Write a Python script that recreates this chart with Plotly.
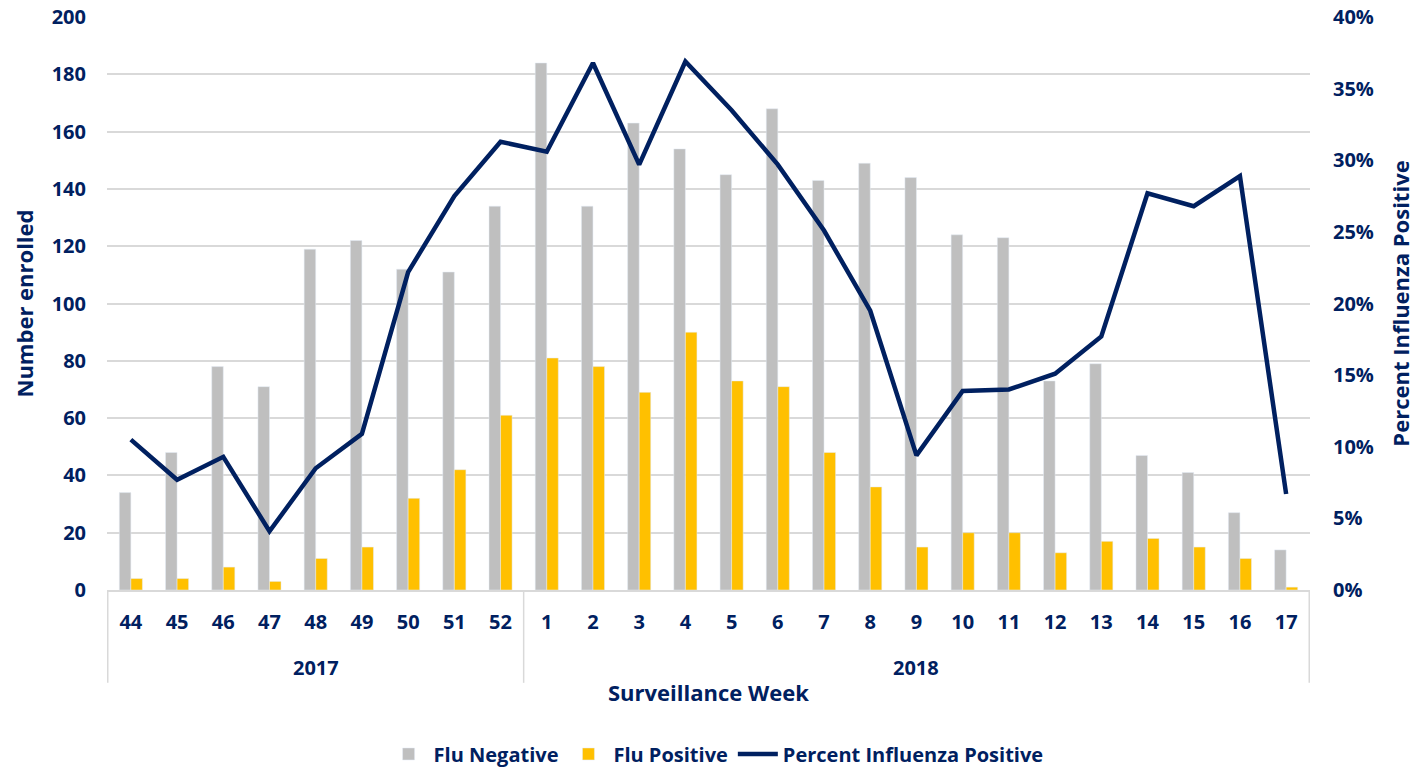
import plotly.graph_objects as go

years = ["2017", "2018"]
year_week_counts = [9, 17]
weeks = ["44", "45", "46", "47", "48", "49", "50", "51", "52",
         "1", "2", "3", "4", "5", "6", "7", "8", "9", "10", "11", "12", "13", "14", "15", "16", "17"]
flu_negative = [34, 48, 78, 71, 119, 122, 112, 111, 134,
                184, 134, 163, 154, 145, 168, 143, 149, 144, 124, 123, 73, 79, 47, 41, 27, 14]
flu_positive = [4, 4, 8, 3, 11, 15, 32, 42, 61,
                81, 78, 69, 90, 73, 71, 48, 36, 15, 20, 20, 13, 17, 18, 15, 11, 1]
pct_positive = [0.105, 0.077, 0.093, 0.041, 0.085, 0.109, 0.222, 0.275, 0.313,
                0.306, 0.368, 0.297, 0.369, 0.335, 0.297, 0.251, 0.195, 0.094,
                0.139, 0.140, 0.151, 0.177, 0.277, 0.268, 0.289, 0.067]

NAVY = "#002060"
GRID = "#D9D9D9"
FONT = "Open Sans"

fig = go.Figure()
fig.add_trace(go.Bar(x=weeks, y=flu_negative, name="Flu Negative", marker_color="#BFBFBF"))
fig.add_trace(go.Bar(x=weeks, y=flu_positive, name="Flu Positive", marker_color="#FFC000"))
fig.add_trace(go.Scatter(x=weeks, y=pct_positive, name="Percent Influenza Positive", yaxis="y2",
                         mode="lines", line=dict(color=NAVY, width=4.5)))

# year group labels and dividers below the category axis
start = 0
div_positions = [-0.5]
for yr, n in zip(years, year_week_counts):
    center = start + (n - 1) / 2
    fig.add_annotation(x=center, xref="x", y=-0.136, yref="paper", text="<b>" + yr + "</b>",
                       showarrow=False, yanchor="middle",
                       font=dict(family=FONT, size=20, color=NAVY))
    start += n
    div_positions.append(start - 0.5)
for dx in div_positions:
    fig.add_shape(type="line", x0=dx, x1=dx, xref="x", y0=0, y1=-0.162, yref="paper",
                  line=dict(color=GRID, width=1.5))

fig.add_annotation(x=0.5, xref="paper", y=-0.178, yref="paper", text="<b>Surveillance Week</b>",
                   showarrow=False, yanchor="middle", font=dict(family=FONT, size=22, color=NAVY))

fig.update_layout(
    width=1418, height=767,
    margin=dict(l=107, r=108, t=17, b=177),
    plot_bgcolor="white", paper_bgcolor="white",
    font=dict(family=FONT, size=20, color=NAVY),
    barmode="group", bargap=0.5, bargroupgap=0,
    xaxis=dict(type="category", showgrid=False, showline=True, linecolor=GRID, linewidth=1.5,
               ticks="", ticklabelstandoff=13, automargin=False,
               tickfont=dict(family=FONT, size=20, color=NAVY, weight="bold")),
    yaxis=dict(range=[0, 200.05], tickmode="linear", tick0=0, dtick=20, showgrid=True,
               gridcolor=GRID, gridwidth=1.5, ticklabeloverflow="allow",
               zeroline=False, ticks="", ticklabelstandoff=20, automargin=False,
               tickfont=dict(family=FONT, size=20, color=NAVY, weight="bold"),
               title=dict(text="<b>Number enrolled</b>", font=dict(size=22, color=NAVY), standoff=11)),
    yaxis2=dict(range=[0, 0.40010], tickmode="linear", tick0=0, dtick=0.05, tickformat=".0%",
                overlaying="y", side="right", ticklabeloverflow="allow",
                showgrid=False, zeroline=False, ticks="", ticklabelstandoff=22, automargin=False,
                tickfont=dict(family=FONT, size=20, color=NAVY, weight="bold"),
                title=dict(text="<b>Percent Influenza Positive</b>", font=dict(size=22, color=NAVY), standoff=20)),
    legend=dict(orientation="h", x=0.505, xanchor="center", xref="container",
                y=0.017, yanchor="middle", yref="container",
                font=dict(family=FONT, size=20, color=NAVY, weight="bold"),
                itemwidth=40, traceorder="normal"),
)

fig.write_html("out.html", config={"displayModeBar": False},
               post_script="document.body.style.margin='0';")
